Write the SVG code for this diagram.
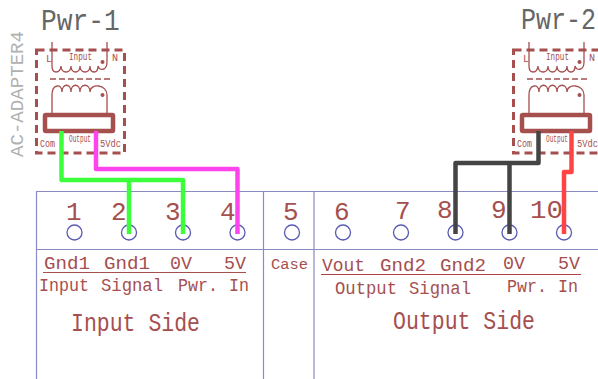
<svg xmlns="http://www.w3.org/2000/svg" width="598" height="379" viewBox="0 0 598 379">
<defs>
<style>
text{font-family:"Liberation Mono","DejaVu Sans Mono",monospace;fill:#a54f4f}
.frame{fill:none;stroke:#8a8ac4;stroke-width:1.2}
.pad{fill:none;stroke:#5a5ab4;stroke-width:1.3}
.wire{fill:none;stroke-width:4.500;stroke-linejoin:round;stroke-linecap:butt}
.dash{fill:none;stroke:#a54f4f;stroke-width:3;stroke-dasharray:8 5}
.thin{fill:none;stroke:#a54f4f;stroke-width:1.300}
.bar{fill:none;stroke:#a54f4f;stroke-width:4.500}
.name{fill:#666;font-size:25px}
.pin{font-size:26px}
.sig{font-size:18px}
.side{font-size:25px}
.tiny{font-size:10px}
</style>
<g id="adapter">
<rect class="dash" x="36.500" y="50" width="88" height="103"/>
<path class="thin" d="M52 42V66C52 74 60 74 61 66C61 74 71 74 71 66C71 74 80 74 80 66C80 74 90 74 90 66C90 74 98 74 98 66C99 71 107 71 107 62V42"/>
<path class="thin" stroke-dasharray="6 3" d="M50 79H112"/>
<path class="thin" d="M52 113V95C52 84 62 83 62 92C62 83 71 83 71 92C71 83 80 83 80 92C80 83 90 83 90 92C90 83 107 84 107 95V113"/>
<circle cx="102.500" cy="62" r="2" fill="#a54f4f"/>
<circle cx="102.500" cy="95" r="2" fill="#a54f4f"/>
<rect class="bar" x="45" y="115" width="68" height="16" rx="1"/>
<text class="tiny" x="46" y="62">L</text>
<text class="tiny" x="112" y="61">N</text>
<text class="tiny" x="69" y="60" textLength="23" lengthAdjust="spacingAndGlyphs">Input</text>
<text class="tiny" x="40" y="147" textLength="15" lengthAdjust="spacingAndGlyphs">Com</text>
<text class="tiny" x="69" y="142" textLength="22" lengthAdjust="spacingAndGlyphs">Output</text>
<text class="tiny" x="100" y="147" textLength="21" lengthAdjust="spacingAndGlyphs">5Vdc</text>
</g>
</defs>
<g id="frame">
<path class="frame" d="M36.500 379V191.500H598M36.500 249.500H598M263.500 191.500V379M314 191.500V379"/>
</g>
<g id="pwr-1">
<use href="#adapter"/>
<text class="name" transform="translate(41 30) scale(1.050 1.150)">Pwr-1</text>
<text x="23" y="157" font-size="19" transform="rotate(-90 23 157)" style="fill:#b0b0b0" textLength="126" lengthAdjust="spacingAndGlyphs">AC-ADAPTER4</text>
</g>
<g id="pwr-2">
<use href="#adapter" x="477"/>
<text class="name" transform="translate(521 29) scale(1 1.150)">Pwr-2</text>
</g>
<g id="pins">
<text class="pin" x="66" y="220">1</text>
<text class="pin" x="111" y="220">2</text>
<text class="pin" x="165" y="220">3</text>
<text class="pin" x="220" y="220">4</text>
<text class="pin" x="283" y="220">5</text>
<text class="pin" x="334" y="220">6</text>
<text class="pin" x="395" y="219">7</text>
<text class="pin" x="437" y="218">8</text>
<text class="pin" x="491" y="218">9</text>
<text class="pin" x="530" y="218" textLength="33" lengthAdjust="spacingAndGlyphs">10</text>
</g>
<g id="pads">
<circle class="pad" cx="74.500" cy="232.500" r="7.500"/>
<circle class="pad" cx="129" cy="232.500" r="7.500"/>
<circle class="pad" cx="183" cy="232.500" r="7.500"/>
<circle class="pad" cx="237.500" cy="232.500" r="7.500"/>
<circle class="pad" cx="292" cy="232.500" r="7.500"/>
<circle class="pad" cx="343" cy="232.500" r="7.500"/>
<circle class="pad" cx="401" cy="232.500" r="7.500"/>
<circle class="pad" cx="455.500" cy="232.500" r="7.500"/>
<circle class="pad" cx="509.500" cy="232.500" r="7.500"/>
<circle class="pad" cx="564" cy="232.500" r="7.500"/>
</g>
<g id="connectors">
<path class="wire" stroke="#3cff3c" d="M61.500 131V180H183V234M129 180V234"/>
<path class="wire" stroke="#ff44ee" d="M96 131V169H237.500V234"/>
<path class="wire" stroke="#444" d="M538.500 131V163H455.500V234M509.500 163V234"/>
<path class="wire" stroke="#ff4444" d="M571.500 131V172H564V234"/>
</g>
<g id="input-labels">
<text class="sig" x="44" y="269" textLength="46" lengthAdjust="spacingAndGlyphs">Gnd1</text>
<text class="sig" x="104" y="269" textLength="46" lengthAdjust="spacingAndGlyphs">Gnd1</text>
<text class="sig" x="170" y="269" textLength="22" lengthAdjust="spacingAndGlyphs">0V</text>
<text class="sig" x="224" y="269" textLength="22" lengthAdjust="spacingAndGlyphs">5V</text>
<path stroke="#a54f4f" stroke-width="1.200" d="M43 272.500H246"/>
<text class="sig" x="39" y="291" textLength="50" lengthAdjust="spacingAndGlyphs">Input</text>
<text class="sig" x="101" y="291" textLength="62" lengthAdjust="spacingAndGlyphs">Signal</text>
<text class="sig" x="178" y="291" textLength="40" lengthAdjust="spacingAndGlyphs">Pwr.</text>
<text class="sig" x="229" y="291" textLength="20" lengthAdjust="spacingAndGlyphs">In</text>
<text class="side" x="71" y="331" textLength="129" lengthAdjust="spacingAndGlyphs">Input Side</text>
</g>
<g id="case-label">
<text class="sig" x="271" y="269" textLength="37" lengthAdjust="spacingAndGlyphs" style="font-size:14px">Case</text>
</g>
<g id="output-labels">
<text class="sig" x="322" y="271" textLength="43" lengthAdjust="spacingAndGlyphs">Vout</text>
<text class="sig" x="380" y="271" textLength="46" lengthAdjust="spacingAndGlyphs">Gnd2</text>
<text class="sig" x="440" y="271" textLength="46" lengthAdjust="spacingAndGlyphs">Gnd2</text>
<text class="sig" x="503" y="269" textLength="22" lengthAdjust="spacingAndGlyphs">0V</text>
<text class="sig" x="558" y="269" textLength="22" lengthAdjust="spacingAndGlyphs">5V</text>
<path stroke="#b04444" stroke-width="1.200" d="M321 274.500H581"/>
<text class="sig" x="335" y="294" textLength="62" lengthAdjust="spacingAndGlyphs">Output</text>
<text class="sig" x="409" y="294" textLength="62" lengthAdjust="spacingAndGlyphs">Signal</text>
<text class="sig" x="507" y="292" textLength="40" lengthAdjust="spacingAndGlyphs">Pwr.</text>
<text class="sig" x="558" y="292" textLength="20" lengthAdjust="spacingAndGlyphs">In</text>
<text class="side" x="393" y="329" textLength="142" lengthAdjust="spacingAndGlyphs">Output Side</text>
</g>
</svg>
